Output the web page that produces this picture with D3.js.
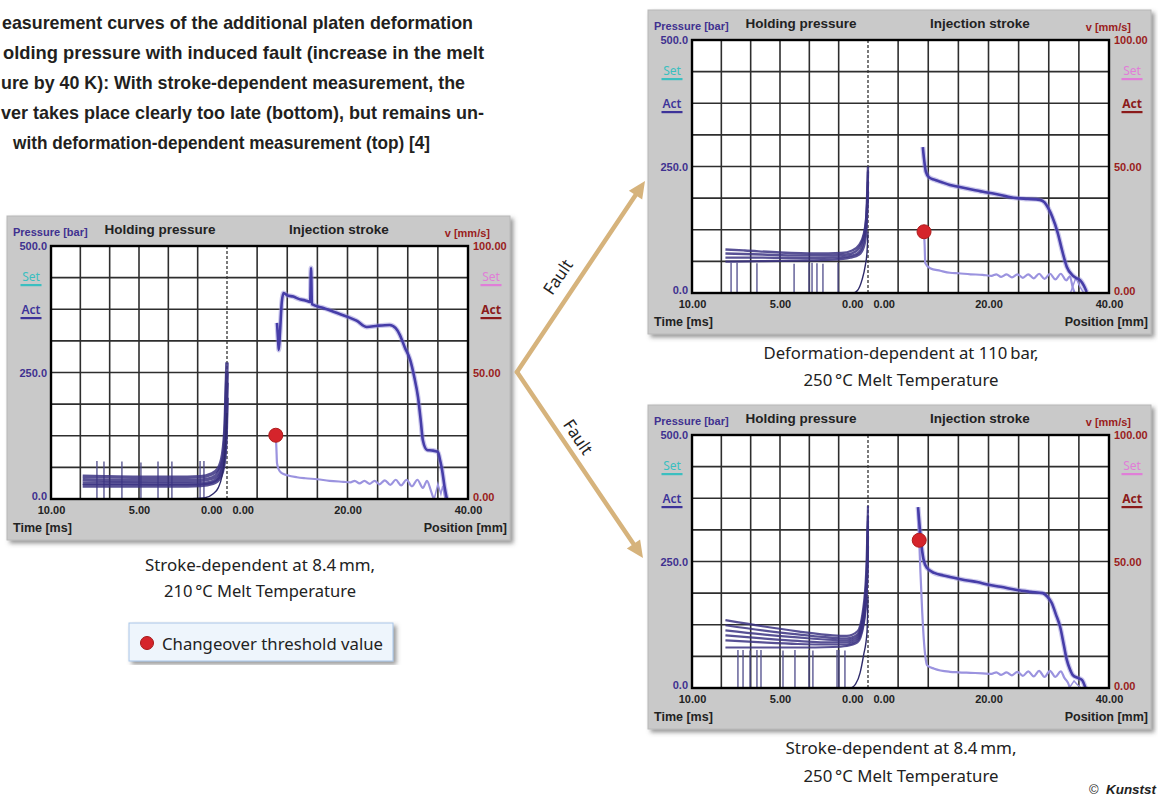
<!DOCTYPE html>
<html>
<head>
<meta charset="utf-8">
<script src="https://cdn.jsdelivr.net/npm/d3@7"></script>
<style>
  body { margin: 0; background: #fff; }
  svg { display: block; }
</style>
</head>
<body>
<div id="chart"></div>
<script>
// ---------- data ----------
const pressureTicks = [0, 250, 500];     // bar
const velocityTicks = [0, 50, 100];      // mm/s
const timeTicks = [10, 5, 0];            // ms (holding pressure, counts down)
const positionTicks = [0, 20, 40];       // mm (injection stroke)

const titleLines = [
  "easurement curves of the additional platen deformation",
  "olding pressure with induced fault (increase in the melt",
  "ure by 40 K): With stroke-dependent measurement, the",
  "ver takes place clearly too late (bottom), but remains un-",
  "with deformation-dependent measurement (top) [4]"
];

// left: stroke-dependent at 8.4 mm, 210 °C  -- [time ms, bar]
const leftHold = [
  [[8.2, 45], [7, 44], [5, 43], [3, 43], [1.5, 44], [0.9, 49], [0.5, 60], [0.25, 88], [0.1, 150], [0, 270]],
  [[8.2, 38], [7, 37], [5, 36], [3, 36], [1.5, 37], [0.8, 42], [0.45, 55], [0.2, 85], [0.08, 150], [0, 250]],
  [[8.2, 31], [6, 31], [4, 30], [2, 30], [1.2, 31], [0.7, 36], [0.35, 50], [0.15, 85], [0.05, 150], [0, 230]],
  [[8.2, 26], [6, 26], [3, 26], [1.5, 27], [0.8, 31], [0.4, 42], [0.15, 75], [0.04, 140], [0, 200]]
];
const leftRise = [[2.3, 0], [1.3, 2], [0.8, 10], [0.5, 22], [0.3, 43], [0.12, 90], [0, 170]];
const leftSpikes = [[7.39, 75], [6.99, 74], [5.97, 74], [4.89, 72], [3.92, 74], [3.13, 74], [1.53, 75], [1.31, 75]];
// [position mm, mm/s]
const leftVelocity = [[8.3, 69.6], [8.5, 62], [8.6, 58.9], [8.8, 66], [9.1, 78], [9.4, 81.4], [10, 80.5], [11, 80],
  [12, 79], [13, 78.5], [13.8, 77.9], [13.95, 91.3], [14.1, 77], [16, 75.5], [18.3, 73.5], [20, 72], [21.5, 70.5],
  [23.2, 68], [25, 68.5], [27, 68.8], [28, 67.5], [28.7, 64.8], [29.5, 60], [30.4, 55], [31.1, 48], [31.7, 40.3],
  [32.2, 30], [32.5, 23.3], [33.2, 19.4], [34, 19.2], [35, 18.6], [35.4, 15], [35.7, 11.5], [36.1, 5], [36.5, 0]];
// [position mm, bar]
const leftPressure = [[8.1, 126], [8.2, 100], [8.3, 71], [8.6, 58], [9.1, 51], [10, 47], [11.6, 43], [13, 41],
  [15, 39], [17, 36], [19.3, 34], [20.5, 33], [21.2, 36], [22, 31], [22.8, 36], [23.7, 30], [24.5, 36], [25.3, 29],
  [26.2, 37], [27.1, 28], [28, 38], [28.9, 27], [29.8, 38], [30.7, 25], [31.6, 38], [32.5, 22], [33.2, 36],
  [33.8, 18], [34.2, 4], [34.4, 0]];
const leftTail = [[34.4, 0], [35, 30], [35.5, 10], [35.8, 26], [36.2, 0]];
const leftChangeover = [8.1, 126];

// top right: deformation-dependent at 110 bar, 250 °C
const topHold = [
  [[8.1, 86], [7, 84], [5, 80], [3, 78], [1.5, 79], [0.9, 84], [0.5, 95], [0.25, 115], [0.1, 150], [0, 250]],
  [[8.1, 78], [6, 76], [4, 74], [2, 74], [1.2, 76], [0.7, 82], [0.35, 100], [0.15, 130], [0.04, 180], [0, 240]],
  [[8.1, 70], [6, 70], [4, 69], [2, 70], [1.2, 72], [0.6, 78], [0.3, 95], [0.12, 125], [0, 220]],
  [[8.1, 62], [6, 63], [4, 64], [2, 66], [1, 70], [0.5, 76], [0.25, 90], [0.1, 120], [0, 200]]
];
const topRise = [[1.2, 0], [0.85, 0], [0.6, 5], [0.34, 26], [0.15, 55], [0.06, 79], [0, 120]];
const topSpikes = [[7.78, 60], [7.44, 60], [6.31, 59], [4.2, 58], [3.35, 60], [3.18, 60], [2.9, 59], [2.56, 58], [1.7, 60]];
const topVelocity = [[9.1, 57.7], [9.3, 53], [9.6, 48], [10.1, 45.8], [11, 44.8], [12, 44], [13.6, 42.7], [15, 42],
  [17, 41], [19.1, 40], [21, 39.2], [23, 38.2], [24.7, 37.5], [26.5, 37.2], [28.5, 36.8], [29.3, 35.8], [29.9, 33.6],
  [30.6, 30], [31.5, 23.7], [32.2, 17], [33, 10.3], [33.9, 7.1], [34.5, 6], [35.2, 5.1], [35.8, 3], [36.3, 0.4]];
const topPressure = [[9.3, 121], [9.4, 95], [9.5, 59], [10.3, 49], [12, 44], [13.6, 40], [15, 39], [17, 37],
  [19, 36], [20.5, 34], [21.3, 37], [22.1, 32], [23, 37], [23.9, 31], [24.8, 37], [25.7, 30], [26.6, 37], [27.5, 29],
  [28.4, 38], [29.3, 28], [30.2, 38], [31.1, 27], [32, 38], [32.9, 25], [33.5, 33], [34, 10], [34.3, 0]];
const topTail = [[33.6, 0], [34.5, 30], [35.2, 12], [35.8, 0]];
const topChangeover = [9.3, 121];

// bottom right: stroke-dependent at 8.4 mm, 250 °C
const bottomHold = [
  [[8.1, 134], [6, 122], [4, 112], [2, 104], [1.2, 103], [0.6, 112], [0.3, 150], [0.1, 230], [0, 360]],
  [[8.1, 124], [6, 114], [4, 106], [2, 99], [1.2, 98], [0.6, 106], [0.28, 145], [0.08, 220], [0, 340]],
  [[8.1, 114], [6, 106], [4, 100], [2, 95], [1.2, 94], [0.6, 102], [0.28, 140], [0.08, 215], [0, 330]],
  [[8.1, 104], [6, 98], [4, 93], [2, 90], [1.2, 90], [0.6, 98], [0.26, 135], [0.07, 205], [0, 320]],
  [[8.1, 94], [6, 90], [4, 87], [2, 86], [1.2, 86], [0.6, 94], [0.25, 130], [0.06, 200], [0, 300]],
  [[8.1, 80], [6, 80], [4, 80], [2, 81], [1.2, 83], [0.6, 90], [0.25, 125], [0.06, 195], [0, 280]]
];
const bottomRise = [[1.2, 0], [1.0, 0], [0.7, 8], [0.45, 30], [0.25, 65], [0.06, 109], [0, 180]];
const bottomSpikes = [[7.39, 75], [7.1, 75], [6.7, 74], [6.31, 75], [6.08, 75], [4.83, 74], [4.15, 75], [3.35, 75],
  [3.13, 74], [1.76, 75], [1.65, 75], [1.31, 74]];
const bottomVelocity = [[8.3, 71.5], [8.5, 66], [8.8, 58], [9.2, 51], [9.8, 47.4], [11, 45.5], [12.5, 44.5],
  [13.6, 43.9], [15, 43.2], [16.5, 42.5], [18.1, 41.9], [20, 40.8], [22, 40], [24.7, 38.7], [27, 38], [29, 37.5],
  [29.8, 36], [30.5, 33.6], [31.2, 29], [31.9, 24.1], [32.5, 17], [33, 11.1], [33.5, 7.5], [34, 5.1], [34.8, 4],
  [35.5, 3.2], [36.1, 0]];
const bottomPressure = [[8.3, 352], [8.4, 320], [8.5, 292], [8.7, 230], [9, 150], [9.3, 90], [9.6, 55], [9.8, 45],
  [11, 38], [13.6, 32], [15, 31], [17, 30], [19, 29], [20.5, 28], [21.3, 31], [22.1, 26], [23, 31], [23.9, 25],
  [24.8, 32], [25.7, 24], [26.6, 33], [27.5, 23], [28.4, 34], [29.3, 22], [30.2, 34], [31.1, 22], [32, 33],
  [32.6, 20], [33.2, 10], [33.5, 0]];
const bottomTail = [[33.4, 0], [34.2, 14], [34.8, 6], [35.4, 0]];
const bottomChangeover = [8.5, 292];

const captions = [
  ["Stroke-dependent at 8.4\u2009mm,", "210\u2009°C Melt Temperature"],
  ["Deformation-dependent at 110\u2009bar,", "250\u2009°C Melt Temperature"],
  ["Stroke-dependent at 8.4\u2009mm,", "250\u2009°C Melt Temperature"]
];

// ---------- layout ----------
const W = 1158, H = 796;
const plotW = 417, plotH = 253, splitX = 176;
const labelFont = "'Liberation Sans', Arial, sans-serif";
const textFont = "'Noto Sans', 'Open Sans', sans-serif";

const svg = d3.select("#chart").append("svg").attr("width", W).attr("height", H);
const defs = svg.append("defs");
const shadow = defs.append("filter").attr("id", "shadow").attr("x", "-5%").attr("y", "-5%").attr("width", "115%").attr("height", "115%");
shadow.append("feDropShadow").attr("dx", 3).attr("dy", 3).attr("stdDeviation", 2)
  .attr("flood-color", "#555").attr("flood-opacity", 0.6);
defs.append("clipPath").attr("id", "plotClip")
  .append("rect").attr("width", plotW).attr("height", plotH);

const xTime = d3.scaleLinear().domain([10, 0]).range([0, splitX]);
const xPos = d3.scaleLinear().domain([0, 40]).range([splitX, plotW]);
const yP = d3.scaleLinear().domain([0, 500]).range([plotH, 0]);
const yV = d3.scaleLinear().domain([0, 100]).range([plotH, 0]);

const holdLine = d3.line().x(d => xTime(d[0])).y(d => yP(d[1])).curve(d3.curveMonotoneX);
const velLine = d3.line().x(d => xPos(d[0])).y(d => yV(d[1])).curve(d3.curveMonotoneX);
const presLine = d3.line().x(d => xPos(d[0])).y(d => yP(d[1])).curve(d3.curveMonotoneX);

// title text (cropped at the left edge like the source)
const titleX = [[2, 473], [3, 484], [1, 465], [1, 484], [13, 430]];
svg.append("g").selectAll("text").data(titleLines).join("text")
  .attr("x", (d, i) => titleX[i][0])
  .attr("y", (d, i) => 29 + i * 30)
  .attr("textLength", (d, i) => titleX[i][1] - titleX[i][0])
  .attr("lengthAdjust", "spacingAndGlyphs")
  .attr("font-family", labelFont).attr("font-weight", "bold").attr("font-size", 18.5)
  .attr("fill", "#231f20")
  .text(d => d);

function drawPanel(p) {
  const g = svg.append("g").attr("transform", `translate(${p.x},${p.y})`);
  g.append("rect")
    .attr("x", -44).attr("y", -30).attr("width", plotW + 86).attr("height", plotH + 71)
    .attr("fill", "#c9c9c9").attr("stroke", "#b8b8b8").attr("filter", "url(#shadow)");
  g.append("rect").attr("width", plotW).attr("height", plotH).attr("fill", "#fff");

  // grid
  const grid = g.append("g").attr("stroke", "#2e2e2e").attr("stroke-width", 1.6);
  d3.range(1, 6).forEach(k => {
    const x = xTime(10 - k * 10 / 6);
    grid.append("line").attr("x1", x).attr("x2", x).attr("y1", 0).attr("y2", plotH);
  });
  d3.range(5, 40, 5).forEach(v => {
    grid.append("line").attr("x1", xPos(v)).attr("x2", xPos(v)).attr("y1", 0).attr("y2", plotH);
  });
  d3.range(1, 8).forEach(k => {
    const y = yP(k * 62.5);
    grid.append("line").attr("x1", 0).attr("x2", plotW).attr("y1", y).attr("y2", y);
  });
  g.append("line").attr("x1", splitX).attr("x2", splitX).attr("y1", 0).attr("y2", plotH)
    .attr("stroke", "#333").attr("stroke-width", 1.3).attr("stroke-dasharray", "3,2");

  // curves
  const c = g.append("g").attr("clip-path", "url(#plotClip)");
  c.selectAll(".spike").data(p.spikes).join("line").attr("class", "spike")
    .attr("x1", d => xTime(d[0])).attr("x2", d => xTime(d[0]))
    .attr("y1", d => yP(d[1])).attr("y2", yP(0))
    .attr("stroke", "#4e4b8a").attr("stroke-width", 1.3);
  c.selectAll(".hold").data(p.hold).join("path").attr("class", "hold")
    .attr("d", holdLine).attr("fill", "none")
    .attr("stroke", "#3b3282").attr("stroke-width", p.bandWidth).attr("stroke-opacity", 0.85);
  c.append("path").attr("d", holdLine(p.rise)).attr("fill", "none")
    .attr("stroke", "#2e2a6a").attr("stroke-width", 1.4);
  c.append("path").attr("d", presLine(p.pressure)).attr("fill", "none")
    .attr("stroke", "#9b93df").attr("stroke-width", 2.2);
  c.append("path").attr("d", d3.line().x(d => xPos(d[0])).y(d => yP(d[1]))(p.tail)).attr("fill", "none")
    .attr("stroke", "#9b93df").attr("stroke-width", 1.5);
  c.append("path").attr("d", velLine(p.velocity)).attr("fill", "none")
    .attr("stroke", "#8f88d6").attr("stroke-width", 5).attr("stroke-opacity", 0.45);
  c.append("path").attr("d", velLine(p.velocity)).attr("fill", "none")
    .attr("stroke", "#463da8").attr("stroke-width", 2.6);
  g.append("circle")
    .attr("cx", xPos(p.changeover[0])).attr("cy", yP(p.changeover[1])).attr("r", 7)
    .attr("fill", "#d5242b").attr("stroke", "#b01c1c").attr("stroke-width", 1);

  g.append("rect").attr("width", plotW).attr("height", plotH)
    .attr("fill", "none").attr("stroke", "#000").attr("stroke-width", 2.4);

  // axes
  const styleAxis = (ax, color) => {
    ax.select(".domain").remove();
    ax.attr("font-family", labelFont).attr("font-size", 11).attr("font-weight", "bold");
    ax.selectAll("text").attr("fill", color);
  };
  const axL = g.append("g").call(d3.axisLeft(yP).tickValues(pressureTicks).tickFormat(d3.format(".1f")).tickSize(0).tickPadding(4));
  styleAxis(axL, "#3f3190");
  axL.selectAll(".tick").filter(d => d === 0).select("text").attr("dy", "0.05em");
  const axR = g.append("g").attr("transform", `translate(${plotW},0)`)
    .call(d3.axisRight(yV).tickValues(velocityTicks).tickFormat(d3.format(".2f")).tickSize(0).tickPadding(5));
  styleAxis(axR, "#9a1d1d");
  axR.selectAll(".tick").filter(d => d === 0).select("text").attr("dy", "0.1em");
  const axT = g.append("g").attr("transform", `translate(0,${plotH})`)
    .call(d3.axisBottom(xTime).tickValues(timeTicks).tickFormat(d3.format(".2f")).tickSize(0).tickPadding(7));
  styleAxis(axT, "#222");
  axT.selectAll(".tick").filter(d => d === 0).select("text").attr("text-anchor", "end").attr("x", -5);
  const axP = g.append("g").attr("transform", `translate(0,${plotH})`)
    .call(d3.axisBottom(xPos).tickValues(positionTicks).tickFormat(d3.format(".2f")).tickSize(0).tickPadding(7));
  styleAxis(axP, "#222");
  axP.selectAll(".tick").filter(d => d === 0).select("text").attr("text-anchor", "start").attr("x", 5);

  // labels
  const lab = (x, y, txt, size, color, anchor) => g.append("text")
    .attr("x", x).attr("y", y).attr("text-anchor", anchor || "start")
    .attr("font-family", labelFont).attr("font-weight", "bold").attr("font-size", size)
    .attr("fill", color).text(txt);
  lab(-38, -10, "Pressure [bar]", 11, "#3f3190");
  lab(109, -12, "Holding pressure", 13.5, "#222", "middle");
  lab(288, -12, "Injection stroke", 13.5, "#222", "middle");
  lab(439, -9, "v [mm/s]", 11, "#9a1d1d", "end");
  lab(-38, 286, "Time [ms]", 12.5, "#222");
  lab(456, 286, "Position [mm]", 12.5, "#222", "end");

  const legendItems = [
    { x: -20, y: 35, t: "Set", c: "#3bbfc0", w: 400 },
    { x: -20, y: 68, t: "Act", c: "#3d3399", w: 600 },
    { x: 440, y: 35, t: "Set", c: "#e07ed8", w: 400 },
    { x: 440, y: 68, t: "Act", c: "#8b1a1a", w: 700 }
  ];
  legendItems.forEach(d => {
    g.append("text").attr("x", d.x).attr("y", d.y).attr("text-anchor", "middle")
      .attr("font-family", textFont).attr("font-size", 12).attr("font-weight", d.w)
      .attr("fill", d.c).text(d.t);
    g.append("rect").attr("x", d.x - 10.5).attr("y", d.y + 3).attr("width", 21).attr("height", 2.2).attr("fill", d.c);
  });
}

const panels = [
  { x: 51, y: 246, bandWidth: 3.6, hold: leftHold, rise: leftRise, spikes: leftSpikes, velocity: leftVelocity, pressure: leftPressure, tail: leftTail, changeover: leftChangeover },
  { x: 692, y: 40, bandWidth: 2.4, hold: topHold, rise: topRise, spikes: topSpikes, velocity: topVelocity, pressure: topPressure, tail: topTail, changeover: topChangeover },
  { x: 692, y: 435, bandWidth: 2.2, hold: bottomHold, rise: bottomRise, spikes: bottomSpikes, velocity: bottomVelocity, pressure: bottomPressure, tail: bottomTail, changeover: bottomChangeover }
];
panels.forEach(drawPanel);

// captions under each panel
const capPos = [
  { x: 260, y: [571, 597], w: [230, 192] },
  { x: 901, y: [359, 386], w: [275, 195] },
  { x: 901, y: [754, 782], w: [231, 195] }
];
captions.forEach((lines, i) => {
  lines.forEach((t, j) => {
    svg.append("text").attr("x", capPos[i].x).attr("y", capPos[i].y[j]).attr("text-anchor", "middle")
      .attr("textLength", capPos[i].w[j]).attr("lengthAdjust", "spacingAndGlyphs")
      .attr("font-family", textFont).attr("font-size", 17).attr("fill", "#222").text(t);
  });
});

// legend box
const lg = svg.append("g");
lg.append("rect").attr("x", 129).attr("y", 623).attr("width", 264).attr("height", 38)
  .attr("fill", "#eef5fc").attr("stroke", "#a9c5e8").attr("filter", "url(#shadow)");
lg.append("circle").attr("cx", 147).attr("cy", 643).attr("r", 6.5).attr("fill", "#d5242b").attr("stroke", "#a51818");
lg.append("text").attr("x", 162).attr("y", 650).attr("textLength", 221).attr("lengthAdjust", "spacingAndGlyphs")
  .attr("font-family", textFont).attr("font-size", 17).attr("fill", "#222").text("Changeover threshold value");

// fault arrows
const origin = [517, 372];
const tips = [[645, 181], [643, 558]];
const arrowColor = "#d6b37c";
tips.forEach(tip => {
  const dx = tip[0] - origin[0], dy = tip[1] - origin[1];
  const len = Math.hypot(dx, dy), ux = dx / len, uy = dy / len;
  const bx = tip[0] - ux * 17, by = tip[1] - uy * 17;
  svg.append("line").attr("x1", origin[0]).attr("y1", origin[1]).attr("x2", bx + ux * 2).attr("y2", by + uy * 2)
    .attr("stroke", arrowColor).attr("stroke-width", 4.5).attr("stroke-linecap", "round");
  svg.append("polygon").attr("fill", arrowColor)
    .attr("points", [[tip[0], tip[1]], [bx - uy * 8, by + ux * 8], [bx + uy * 8, by - ux * 8]].map(q => q.join(",")).join(" "));
});
[{ x: 558, y: 277, a: -56 }, { x: 578, y: 437, a: 56 }].forEach(f => {
  svg.append("text").attr("transform", `translate(${f.x},${f.y}) rotate(${f.a})`)
    .attr("text-anchor", "middle").attr("dy", "0.35em")
    .attr("textLength", 38).attr("lengthAdjust", "spacingAndGlyphs")
    .attr("font-family", textFont).attr("font-size", 17).attr("fill", "#222").text("Fault");
});

// credit (cut at the right edge in the source)
svg.append("text").attr("x", 1089).attr("y", 794).attr("font-family", labelFont).attr("font-size", 13)
  .attr("fill", "#222").text("©");
svg.append("text").attr("x", 1106).attr("y", 794).attr("textLength", 50).attr("lengthAdjust", "spacingAndGlyphs")
  .attr("font-family", labelFont).attr("font-size", 13.5)
  .attr("font-weight", "bold").attr("font-style", "italic").attr("fill", "#222").text("Kunstst");
</script>
</body>
</html>
